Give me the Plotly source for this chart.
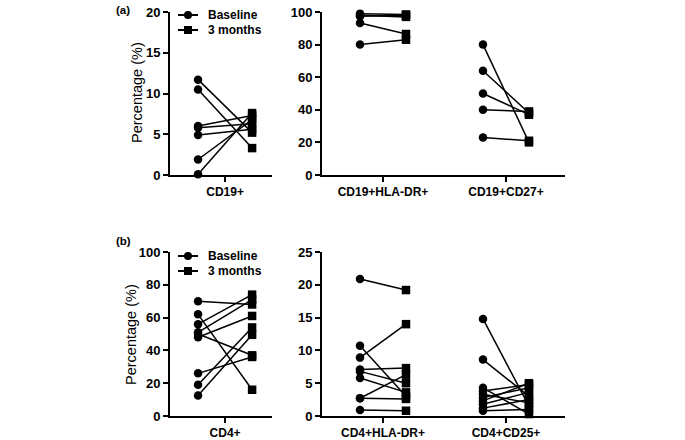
import plotly.graph_objects as go

W, H = 685, 440

# ---------------- data ----------------
# (a) B-cell subsets
cd19_cats = ["CD19+"]
cd19_base = [11.7, 10.5, 6.0, 5.8, 4.9, 1.9, 0.1]
cd19_3m = [5.2, 3.3, 7.3, 6.3, 5.6, 6.8, 7.6]

cd19sub_cats = ["CD19+HLA-DR+", "CD19+CD27+"]
cd19hla_base = [99.0, 98.0, 97.4, 93.3, 80.0]
cd19hla_3m = [98.5, 97.0, 98.0, 86.5, 83.0]
cd19cd27_base = [80.0, 64.0, 50.0, 40.0, 23.0]
cd19cd27_3m = [20.0, 38.0, 37.0, 39.0, 21.0]

# (b) T-cell subsets
cd4_cats = ["CD4+"]
cd4_base = [70.0, 62.0, 56.0, 51.0, 50.0, 48.0, 26.0, 19.0, 12.5]
cd4_3m = [68.0, 16.0, 74.0, 71.0, 37.0, 61.0, 36.0, 54.0, 49.5]

cd4sub_cats = ["CD4+HLA-DR+", "CD4+CD25+"]
cd4hla_base = [20.9, 10.7, 8.9, 7.1, 6.8, 5.8, 2.7, 2.7, 0.9]
cd4hla_3m = [19.2, 3.0, 14.0, 7.3, 5.0, 3.6, 6.3, 2.6, 0.8]
cd4cd25_base = [14.8, 8.6, 4.3, 3.8, 3.3, 2.8, 2.3, 1.8, 1.2, 0.8]
cd4cd25_3m = [1.5, 3.0, 0.3, 4.8, 2.0, 4.3, 5.0, 3.6, 2.5, 1.0]

legend_labels = ["Baseline", "3 months"]

FONT = "Liberation Sans, Arial, Helvetica, sans-serif"


def px(x):
    return x / W


def py(y):
    return 1 - y / H


fig = go.Figure()

# panel definitions: axis suffix, pixel box, x-range, offset, y-range, dtick, categories, series
panels = [
    dict(ax="", box=(170, 272, 12, 175), xr=[0.46, 1.46], d=0.265, yr=[0, 20], dt=5,
         cats=cd19_cats, series=[(cd19_base, cd19_3m)]),
    dict(ax="2", box=(322, 565, 12, 175), xr=[0.504, 2.48], d=0.187, yr=[0, 100], dt=20,
         cats=cd19sub_cats, series=[(cd19hla_base, cd19hla_3m), (cd19cd27_base, cd19cd27_3m)]),
    dict(ax="3", box=(170, 272, 252, 416), xr=[0.46, 1.46], d=0.265, yr=[0, 100], dt=20,
         cats=cd4_cats, series=[(cd4_base, cd4_3m)]),
    dict(ax="4", box=(322, 565, 252, 416), xr=[0.504, 2.48], d=0.187, yr=[0, 25], dt=5,
         cats=cd4sub_cats, series=[(cd4hla_base, cd4hla_3m), (cd4cd25_base, cd4cd25_3m)]),
]

axis_common = dict(
    showline=True, linecolor="black", linewidth=2, showgrid=False, zeroline=False,
    ticks="outside", ticklen=5, tickwidth=1.5, tickcolor="black",
    tickfont=dict(family=FONT, size=13, color="black", weight="bold"),
)

layout_axes = {}
for p in panels:
    x0, x1, y0, y1 = p["box"]
    xs, ys = [], []
    syms = []
    for ci, (b, m) in enumerate(p["series"]):
        pos = ci + 1
        for bv, mv in zip(b, m):
            xs += [pos - p["d"], pos + p["d"], None]
            ys += [bv, mv, None]
            syms += ["circle", "square", "circle"]
    fig.add_trace(go.Scatter(
        x=xs, y=ys, mode="lines+markers",
        line=dict(color="black", width=1.5),
        marker=dict(color="black", size=8.5, symbol=syms),
        xaxis="x" + p["ax"], yaxis="y" + p["ax"],
        showlegend=False, cliponaxis=False, hoverinfo="skip",
    ))
    xa = dict(axis_common)
    xa.update(domain=[px(x0), px(x1)], range=p["xr"], anchor="y" + p["ax"],
              tickvals=list(range(1, len(p["cats"]) + 1)), ticktext=p["cats"],
              tickfont=dict(family=FONT, size=12, color="black", weight="bold"))
    ya = dict(axis_common)
    ya.update(domain=[py(y1), py(y0)], range=p["yr"], dtick=p["dt"], tick0=0,
              anchor="x" + p["ax"])
    layout_axes["xaxis" + p["ax"]] = xa
    layout_axes["yaxis" + p["ax"]] = ya

annotations = []
shapes = []

# panel labels
for txt, (x, y) in [("(a)", (123, 10)), ("(b)", (123, 241))]:
    annotations.append(dict(text=txt, x=px(x), y=py(y), xref="paper", yref="paper",
                            showarrow=False, xanchor="center", yanchor="middle",
                            font=dict(family=FONT, size=11.5, color="black", weight="bold")))

# y-axis titles
for (x, y) in [(137, 93), (131, 335)]:
    annotations.append(dict(text="Percentage (%)", x=px(x), y=py(y), xref="paper", yref="paper",
                            showarrow=False, textangle=-90, xanchor="center", yanchor="middle",
                            font=dict(family=FONT, size=14.5, color="black")))

# manual legends
for top in (15, 256):
    for i, lab in enumerate(legend_labels):
        yy = top + 15 * i
        shapes.append(dict(type="line", xref="paper", yref="paper",
                           x0=px(178), x1=px(198), y0=py(yy), y1=py(yy),
                           line=dict(color="black", width=2)))
        r = 4
        shapes.append(dict(type="circle" if i == 0 else "rect", xref="paper", yref="paper",
                           x0=px(188 - r), x1=px(188 + r), y0=py(yy + r), y1=py(yy - r),
                           fillcolor="black", line=dict(color="black", width=0)))
        annotations.append(dict(text=lab, x=px(206), y=py(yy), xref="paper", yref="paper",
                                showarrow=False, xanchor="left", yanchor="middle",
                                font=dict(family=FONT, size=12, color="black", weight="bold")))

fig.update_layout(
    width=W, height=H, template="none",
    margin=dict(l=0, r=0, t=0, b=0),
    paper_bgcolor="white", plot_bgcolor="white",
    annotations=annotations, shapes=shapes,
    **layout_axes,
)

fig.write_html("out.html",
               config={"displayModeBar": False},
               post_script="document.body.style.margin='0';document.body.style.padding='0';"
                           "document.body.style.overflow='hidden';")
